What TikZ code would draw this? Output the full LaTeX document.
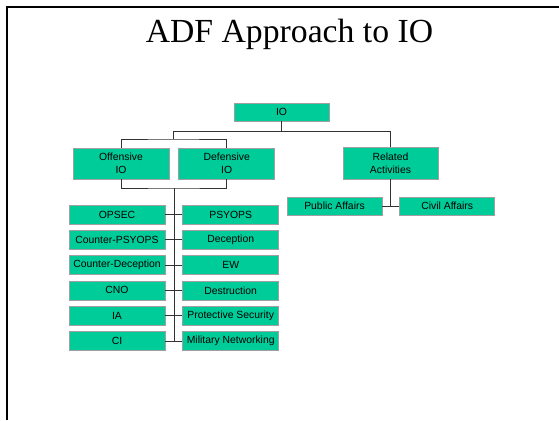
\documentclass[tikz,border=0pt]{standalone}
\usepackage{fontspec}
\setmainfont{Liberation Serif}
\setsansfont{Liberation Sans}
\usepackage{tikz}
\usetikzlibrary{positioning}
\definecolor{iogreen}{HTML}{00CC99}
\definecolor{ioedge}{HTML}{A0A0A0}
\definecolor{ioline}{HTML}{333333}
\tikzstyle{iobox} = [rectangle, draw=ioedge, fill=iogreen, line width=0.7pt, minimum width=96pt, minimum height=19pt, inner sep=0pt, text centered, align=center, font=\sffamily\fontsize{10.4}{13}\selectfont]
\tikzstyle{tallbox} = [iobox, minimum height=31pt]
\tikzstyle{link} = [ioline, line width=0.9pt]

\begin{document}
\begin{tikzpicture}[x=1pt, y=-1pt]
    \useasboundingbox (0,0) rectangle (559,420);

    % Page frame and title
    \draw [line width=2pt] (7,420) -- (7,7.5) -- (559,7.5);
    \node (title) [anchor=base, font=\fontsize{33.7}{40}\selectfont] at (289.5,42) {ADF Approach to IO};

    % Nodes
    \node (io) [iobox, minimum width=95pt, minimum height=18pt] at (281.5,112) {IO};
    \node (off) [tallbox] at (121,163.5) {Offensive\\IO};
    \node (def) [tallbox, right=9pt of off] {Defensive\\IO};
    \node (rel) [tallbox, minimum width=95pt, minimum height=32pt] at (390.5,163) {Related\\Activities};
    \node (pub) [iobox, minimum width=95pt, minimum height=18pt] at (334.5,206) {Public Affairs};
    \node (civ) [iobox, minimum width=95pt, minimum height=18pt, right=17pt of pub] {Civil Affairs};

    % Offensive / defensive columns
    \node (opsec) [iobox] at (117,214.5) {OPSEC};
    \node (cpsyops) [iobox, below=5.6pt of opsec] {Counter-PSYOPS};
    \node (cdecep) [iobox, below=5.6pt of cpsyops] {Counter-Deception};
    \node (cno) [iobox, below=5.6pt of cdecep] {CNO};
    \node (ia) [iobox, below=5.6pt of cno] {IA};
    \node (ci) [iobox, below=5.6pt of ia] {CI};
    \node (psyops) [iobox, right=17pt of opsec] {PSYOPS};
    \node (decep) [iobox, right=17pt of cpsyops] {Deception};
    \node (ew) [iobox, right=17pt of cdecep] {EW};
    \node (destr) [iobox, right=17pt of cno] {Destruction};
    \node (protsec) [iobox, right=17pt of ia] {Protective Security};
    \node (milnet) [iobox, right=17pt of ci] {Military Networking};

    % Bus points
    \coordinate (topbus) at (173,131);
    \coordinate (offbus) at (173,139);
    \coordinate (botbus) at (174,188);

    % Connectors
    \draw [link] (io.south) -- (io.south |- topbus);
    \draw [link] (topbus) -| (rel.north);
    \draw [link] (topbus) -- (offbus);
    \draw [link] (off.north) |- (offbus) -| (def.north);
    \draw [link] (off.south) |- (botbus) -| (def.south);
    \draw [link] (botbus) -- (botbus |- ci.east);
    \draw [link] (rel.south) -- (rel.south |- pub.east);
    \draw [link] (pub.east) -- (civ.west);
    \foreach \l/\r in {opsec/psyops, cpsyops/decep, cdecep/ew, cno/destr, ia/protsec, ci/milnet}
        \draw [link] (\l.east) -- (\r.west);

\end{tikzpicture}
\end{document}
